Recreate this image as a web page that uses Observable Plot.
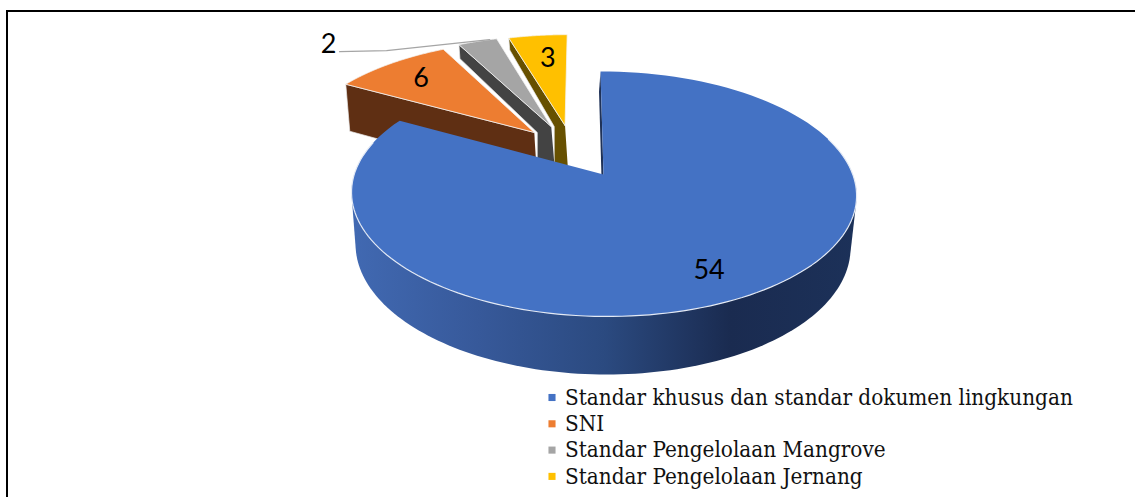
<!DOCTYPE html>
<html>
<head>
<meta charset="utf-8">
<script src="https://cdn.jsdelivr.net/npm/d3@7"></script>
<script src="https://cdn.jsdelivr.net/npm/@observablehq/plot@0.6"></script>
<style>
html,body{margin:0;padding:0;background:#fff;overflow:hidden}
#wrap{position:relative;width:1135px;height:497px;overflow:hidden}
#frame{position:absolute;left:6px;top:10px;right:-4px;bottom:-4px;border-left:2px solid #000;border-top:2px solid #000}
svg{display:block;position:absolute;left:0;top:0;background:transparent}
</style>
</head>
<body>
<div id="wrap"><div id="frame"></div></div>
<script>
// ---- chart values ----
const categories = ["Standar khusus dan standar dokumen lingkungan", "SNI", "Standar Pengelolaan Mangrove", "Standar Pengelolaan Jernang"];
const values = [54, 6, 2, 3];
const topColors = ["#4472c4", "#ed7d31", "#a5a5a5", "#ffc000"];
const wallColors = ["#1f3258", "#5f2f13", "#434343", "#675000"];
// ---- slice explosion and wall depth, in units of the view ----
const explodeX = [0, -0.289, -0.218, -0.159];
const explodeY = [0, 0.373, 0.429, 0.439];
const outerDepth = [0, 47, 14, 12];
const apexDepth = [0, 50, 36, 45];
const labelRadius = [0.8, 0.77, 1.0, 0.72];
const labelShiftX = [-0.04, 0, -0.72, 0.015];
const labelShiftY = [-0.025, 0, -0.04, 0];

// ---- 3D view of the pie ----
const A = 249.3, B = 119.4, q = 0.159, skew = 0.029;
const project = (a, b) => {
  const d = 1 + q * b;
  const y = B * b / d;
  return {x: A * a / d - skew * y, y};
};
const drop = (p) => ({x: p.x * 0.98 - 1, y: p.y * 1.048 - 51.2});
const sink = (p, depth, dx) => ({x: p.x + dx, y: p.y - depth});

const total = d3.sum(values);
const rad = Math.PI / 180;
let cum = 0;
const slices = values.map((v, i) => {
  const start = cum / total * 360;
  cum += v;
  return {i, cat: categories[i], start, end: cum / total * 360, ox: explodeX[i], oy: explodeY[i]};
});
const rim = (s, t, r = 1) => project(s.ox + r * Math.sin(t * rad), s.oy + r * Math.cos(t * rad));
const apex = (s) => project(s.ox, s.oy);
const arc = (s, from, to) => d3.range(0, 121).map((k) => rim(s, from + (to - from) * k / 120));
const tag = (pts, id, extra) => pts.map((p) => ({...p, id, ...extra}));

// each small slice: wall at its start angle, then its top, painted far to near
const wallOf = (s) => {
  const a = apex(s), o = rim(s, s.start);
  const inner = s.i > 1 ? [sink(apex(slices[s.i - 1]), 0, 3), sink(apex(slices[s.i - 1]), apexDepth[s.i], 3)] : [];
  return tag([a, o, sink(o, outerDepth[s.i], s.i === 1 ? 4 : 1), ...inner, sink(a, apexDepth[s.i], 3)], "w" + s.i, {color: wallColors[s.i]});
};
const topOf = (s) => tag([apex(s), ...arc(s, s.start, s.end), apex(s)], "t" + s.i, {cat: s.cat});
const smallOrder = [slices[3], slices[2], slices[1]];
const smallMarks = smallOrder.flatMap((s) => [
  Plot.line(wallOf(s), {x: "x", y: "y", fill: "color", stroke: "#e6e6e6", strokeWidth: 0.7}),
  Plot.line(topOf(s), {x: "x", y: "y", fill: "cat", stroke: "#f4f4f4", strokeWidth: 0.8})
]);

// blue: curved outer side (silhouette of top and bottom rims) and its inner wall sliver
const blue = slices[0];
const front = arc(blue, 95, 265);
const blueSide = d3.polygonHull([...front, ...front.map(drop)].map((p) => [p.x, p.y])).map(([x, y]) => ({x, y}));
blueSide.push(blueSide[0]);
const ba = apex(blue), bo = rim(blue, 0);
const blueWall = [ba, bo, {x: bo.x - 1.5, y: bo.y - 20}, {x: ba.x - 1.5, y: ba.y - 20}];
const frontRim = arc(blue, 72, 286);

// labels
const labels = slices.map((s) => {
  const m = (s.start + s.end) / 2, r = labelRadius[s.i];
  const p = project(s.ox + r * Math.sin(m * rad) + labelShiftX[s.i], s.oy + r * Math.cos(m * rad) + labelShiftY[s.i]);
  return {...p, text: String(values[s.i])};
});
// leader of the outside label: from the grey slice's rim to its number
const g = slices[2];
const gr = rim(g, (g.start + g.end) / 2 + 3.5);
const leader = [gr, {x: labels[2].x + 58, y: labels[2].y - 6}, {x: labels[2].x + 11, y: labels[2].y - 7}];

// legend rows, in chart units below the pie
const legendRows = categories.map((c, i) => ({cat: c, x: -51.5, y: -223 - i * 26.3}));

const defs = () => {
  const svg = d3.create("svg:defs");
  const gr = svg.append("linearGradient").attr("id", "blueSide").attr("x1", 0).attr("x2", 1).attr("y1", 0).attr("y2", 0);
  [[0, "#4169b2"], [0.25, "#37599a"], [0.5, "#2b4a80"], [0.75, "#1a2b50"], [1, "#1c3159"]]
    .forEach(([o, c]) => gr.append("stop").attr("offset", o).attr("stop-color", c));
  return svg.node();
};

const chart = Plot.plot({
  width: 1135, height: 497,
  margin: 0,
  x: {domain: [-603, 532], range: [0, 1135], axis: null},
  y: {domain: [174, -323], range: [0, 497], axis: null},
  color: {domain: categories, range: topColors},
  style: {background: "transparent"},
  marks: [
    defs,
    ...smallMarks,
    Plot.line(blueWall, {x: "x", y: "y", fill: wallColors[0], stroke: "none"}),
    Plot.line(blueSide, {x: "x", y: "y", fill: "url(#blueSide)", stroke: "none"}),
    Plot.line(topOf(blue), {x: "x", y: "y", fill: "cat", stroke: "none"}),
    Plot.line(frontRim, {x: "x", y: "y", stroke: "#e4eaf5", strokeWidth: 1.2}),
    Plot.line(leader, {x: "x", y: "y", stroke: "#a5a5a5", strokeWidth: 1.4}),
    Plot.text(labels, {x: "x", y: "y", text: "text", fontFamily: "Lato", fontSize: 27, fill: "#000"}),
    Plot.dot(legendRows, {x: "x", y: "y", fill: "cat", stroke: "none", symbol: "square", r: 4}),
    Plot.text(legendRows, {x: (d) => d.x + 13, y: "y", text: "cat", textAnchor: "start", fontFamily: "DejaVu Serif Condensed, DejaVu Serif", fontSize: 22.3, fill: "#111"})
  ]
});
document.getElementById("wrap").appendChild(chart);
</script>
</body>
</html>
